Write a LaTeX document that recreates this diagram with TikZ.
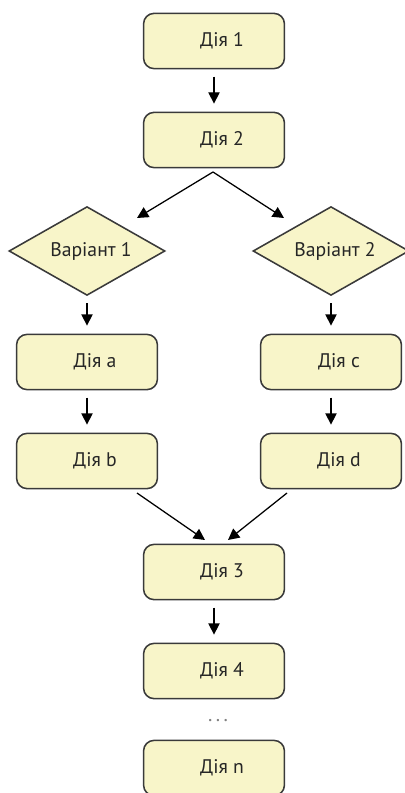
\documentclass[tikz,border=0pt]{standalone}
\usepackage{fontspec}
\setmainfont{PT Sans}
\usetikzlibrary{shapes.geometric, arrows.meta}
\definecolor{boxfill}{HTML}{F8F5C9}
\definecolor{boxline}{HTML}{3A3A3A}
\definecolor{boxtext}{HTML}{262626}
\begin{document}
\begin{tikzpicture}[x=0.025cm,y=-0.025cm,thick,
    act node/.style={rectangle,rounded corners=0.26cm,draw=boxline,line width=1.1pt,fill=boxfill,
        minimum width=3.52cm,minimum height=1.38cm,inner sep=0pt,text=boxtext,
        font=\fontsize{14}{16}\selectfont,execute at begin node=\hspace*{0.4cm}},
    var node/.style={diamond,aspect=1.74,draw=boxline,line width=1.1pt,fill=boxfill,
        minimum width=3.9cm,minimum height=2.22cm,inner sep=0pt,text=boxtext,
        font=\fontsize{14}{16}\selectfont,execute at begin node=\hspace*{0.2cm}},
    arr/.style={-{Triangle[width=8pt,length=8pt]},line width=0.9pt,draw=black}]
        \useasboundingbox (0,0) rectangle (405,793);
        \node [act node] (d1) at (214,41) {Дія 1};
        \node [act node] (d2) at (214,140) {Дія 2};
        \node [var node] (v1) at (87,251) {Варіант 1};
        \node [var node] (v2) at (331,251) {Варіант 2};
        \node [act node] (da) at (87,362) {Дія a};
        \node [act node] (db) at (87,461) {Дія b};
        \node [act node] (dc) at (331,362) {Дія c};
        \node [act node] (dd) at (331,461) {Дія d};
        \node [act node] (d3) at (214,572) {Дія 3};
        \node [act node] (d4) at (214,671) {Дія 4};
        \node [text=gray,font=\Large] (dots) at (218,721) {.\,.\,.};
        \node [act node] (dn) at (214,768) {Дія n};
        % free ends of the slanted arrows
        \coordinate (from2) at (213,172);
        \coordinate (toleft) at (137,218);
        \coordinate (toright) at (284,218);
        \coordinate (fromb) at (137,493);
        \coordinate (fromd) at (287,493);
        \coordinate (tothreea) at (205,540);
        \coordinate (tothreeb) at (228,540);
        \path[arr,shorten <=0.18cm,shorten >=0.2cm]
        (d1) edge (d2)
        (v1) edge (da)
        (v2) edge (dc)
        (da) edge (db)
        (dc) edge (dd)
        (d3) edge (d4);
        \draw[arr] (from2) -- (toleft);
        \draw[arr] (from2) -- (toright);
        \draw[arr] (fromb) -- (tothreea);
        \draw[arr] (fromd) -- (tothreeb);
    \end{tikzpicture}
\end{document}
